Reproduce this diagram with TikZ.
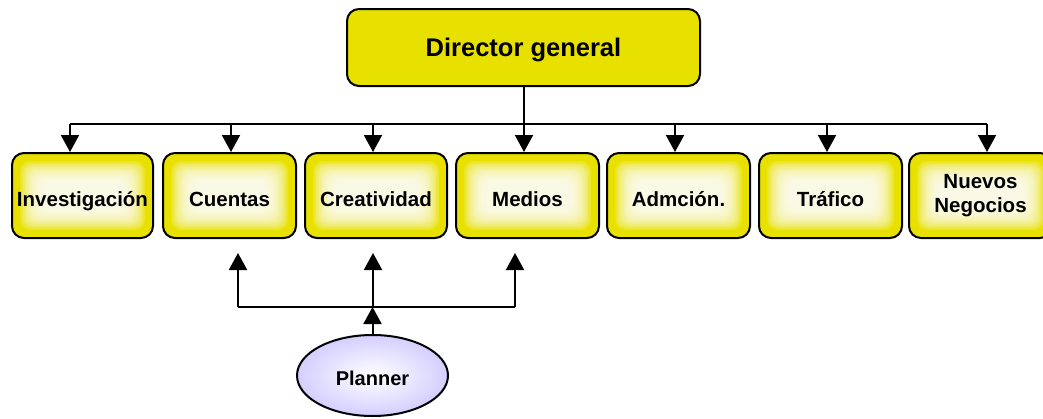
\documentclass[tikz,border=0pt]{standalone}
\usepackage{fontspec}
\setmainfont{Liberation Sans}
\usetikzlibrary{arrows.meta,shapes.geometric}
\definecolor{boxyellow}{RGB}{232,225,0}
\definecolor{lavender}{RGB}{212,206,255}
\tikzset{
    area/.style={draw=black,line width=2pt,rounded corners=12pt,fill=boxyellow,
        minimum width=143pt,minimum height=85pt,inner sep=0pt,align=center,
        text height=24pt,text depth=2pt,
        font=\bfseries\fontsize{20.5}{24}\selectfont,
        path picture={\foreach \g in {8,9.5,...,30}
            \fill[white,opacity=0.15,rounded corners=10pt]
            ([shift={(\g pt,\g pt)}]path picture bounding box.south west) rectangle
            ([shift={(-\g pt,-\g pt)}]path picture bounding box.north east);}},
    chief/.style={draw=black,line width=2pt,rounded corners=12pt,fill=boxyellow,
        minimum width=353pt,minimum height=77pt,inner sep=0pt,
        text height=20pt,text depth=2pt,
        font=\bfseries\fontsize{25.5}{30}\selectfont},
    planner/.style={ellipse,draw=black,line width=2pt,inner color=white,outer color=lavender,
        minimum width=151pt,minimum height=81pt,inner sep=0pt,
        text height=21pt,text depth=2pt,
        font=\bfseries\fontsize{20}{24}\selectfont}
}
\begin{document}
\begin{tikzpicture}[x=1pt,y=-1pt,line width=2pt,>={Triangle[width=18pt,length=17pt]}]
        \clip (0,0) rectangle (1043,418);
        \fill [white] (0,0) rectangle (1043,418);
        \node [chief] (dir) at(523.5,47.5) {Director general};
        \node [area,minimum width=141pt] (inv) at(82.5,195.5) {Investigación};
        \node [area,minimum width=133pt] (cue) at(229.5,195.5) {Cuentas};
        \node [area,minimum width=142pt] (cre) at(376,195.5) {Creatividad};
        \node [area] (med) at(527.5,195.5) {Medios};
        \node [area] (adm) at(678.5,195.5) {Admción.};
        \node [area] (tra) at(830.5,195.5) {Tráfico};
        \node [area,text height=,text depth=] (nue) at(980.5,195.5) {Nuevos\\Negocios};
        \node [planner] (plan) at(372.5,375.5) {Planner};
        \coordinate (bus) at(0,124);
        \coordinate (join) at(373,307);

        \draw (dir.south) -- (dir.south |- bus);
        \draw ([xshift=-12.5pt]inv.north |- bus) -- ([xshift=6.5pt]nue.north |- bus);
        \foreach \n/\s in {inv/-12.5,cue/1.5,cre/-3,med/-3.5,adm/-3.5,tra/-3.5,nue/6.5}
            \draw [->] ([xshift=\s pt]\n.north |- bus) -- ([xshift=\s pt]\n.north);

        \draw ([xshift=8.5pt]cue.south |- join) -- ([xshift=-12.5pt]med.south |- join);
        \foreach \n/\s in {cue/8.5,cre/-3,med/-12.5}
            \draw [->] ([xshift=\s pt]\n.south |- join) -- ([shift={(\s pt,-14pt)}]\n.south);
        \draw [->] (plan.north) -- (plan.north |- join);
\end{tikzpicture}
\end{document}
